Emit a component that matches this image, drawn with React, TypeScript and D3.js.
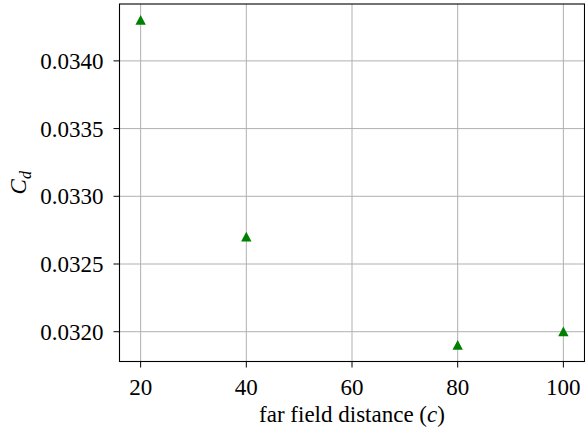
import React from "react";
import * as d3 from "d3";

const distances = [20, 40, 80, 100];
const cdValues = [0.0343, 0.0327, 0.0319, 0.032];
const xTicks = [20, 40, 60, 80, 100];
const yTicks = [0.032, 0.0325, 0.033, 0.0335, 0.034];

const W = 585;
const H = 436;
const left = 119.5;
const right = 584.5;
const top = 4;
const bottom = 361.5;
const font = "'Liberation Serif', 'Times New Roman', serif";
const fs = 23;

export default function App() {
  const xMin = d3.min(distances)!;
  const xMax = d3.max(distances)!;
  const xPad = (xMax - xMin) * 0.05;
  const yMin = d3.min(cdValues)!;
  const yMax = d3.max(cdValues)!;
  const yPad = (yMax - yMin) * 0.05;
  const x = d3.scaleLinear().domain([xMin - xPad, xMax + xPad]).range([left, right]);
  const y = d3.scaleLinear().domain([yMin - yPad, yMax + yPad]).range([bottom, top]);

  const tri = (cx: number, cy: number) => {
    const p = d3.path();
    p.moveTo(cx, cy - 5.2);
    p.lineTo(cx - 5.2, cy + 4.6);
    p.lineTo(cx + 5.2, cy + 4.6);
    p.closePath();
    return p.toString();
  };

  return (
    <div style={{ position: "absolute", left: 0, top: 0 }}>
      <svg width={W} height={H} style={{ display: "block" }}>
        <rect width={W} height={H} fill="white" />
        {xTicks.map((t) => (
          <line key={"gx" + t} x1={x(t)} x2={x(t)} y1={top} y2={bottom} stroke="#b0b0b0" strokeWidth={1} />
        ))}
        {yTicks.map((t) => (
          <line key={"gy" + t} x1={left} x2={right} y1={y(t)} y2={y(t)} stroke="#b0b0b0" strokeWidth={1} />
        ))}
        {distances.map((d, i) => (
          <path key={"m" + i} d={tri(x(d), y(cdValues[i]))} fill="#008000" />
        ))}
        <rect x={left} y={top} width={right - left} height={bottom - top} fill="none" stroke="#000" strokeWidth={1.1} />
        {xTicks.map((t) => (
          <g key={"xt" + t}>
            <line x1={x(t)} x2={x(t)} y1={bottom} y2={bottom + 6} stroke="#000" strokeWidth={1} />
            <text x={x(t)} y={395} textAnchor="middle" fontFamily={font} fontSize={fs} fill="#000">
              {t}
            </text>
          </g>
        ))}
        {yTicks.map((t) => (
          <g key={"yt" + t}>
            <line x1={left - 6} x2={left} y1={y(t)} y2={y(t)} stroke="#000" strokeWidth={1} />
            <text x={left - 16} y={y(t) + 8} textAnchor="end" fontFamily={font} fontSize={fs} fill="#000">
              {t.toFixed(4)}
            </text>
          </g>
        ))}
        <text x={(left + right) / 2} y={422} textAnchor="middle" fontFamily={font} fontSize={fs} fill="#000">
          far field distance (<tspan fontStyle="italic">c</tspan>)
        </text>
        <text
          transform={`translate(26, ${(top + bottom) / 2}) rotate(-90)`}
          textAnchor="middle"
          fontFamily={font}
          fontSize={fs}
          fill="#000"
        >
          <tspan fontStyle="italic">C</tspan>
          <tspan fontStyle="italic" fontSize={16} dy={5}>d</tspan>
        </text>
      </svg>
    </div>
  );
}
